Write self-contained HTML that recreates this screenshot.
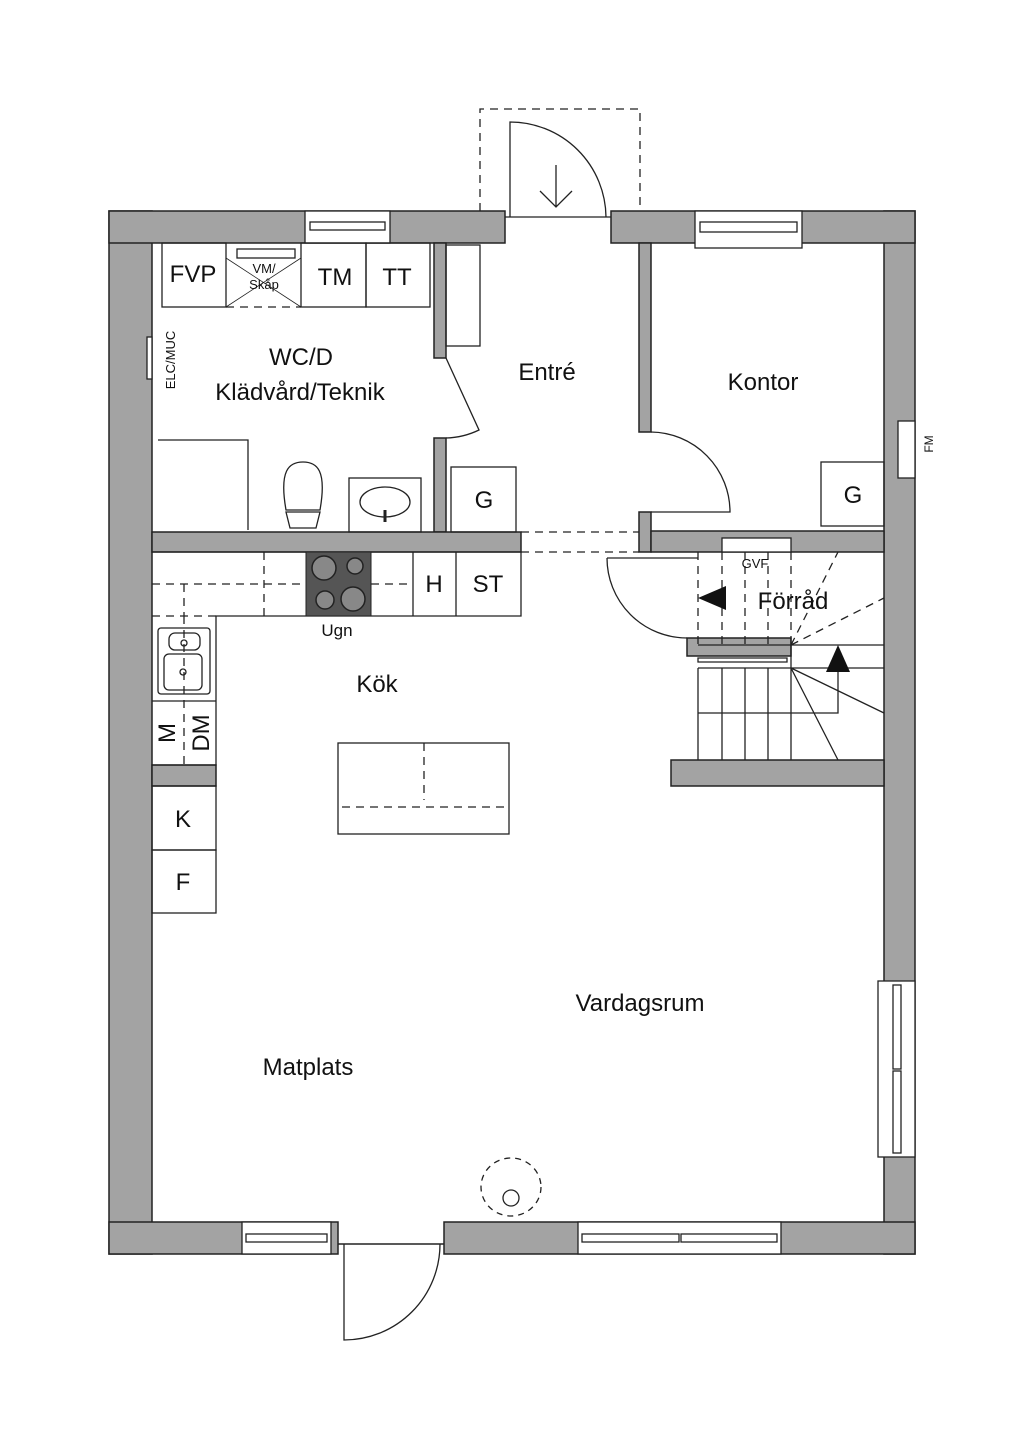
<!DOCTYPE html>
<html><head><meta charset="utf-8"><style>
html,body{margin:0;padding:0;background:#fff}
svg{display:block}
text{font-family:"Liberation Sans",sans-serif;fill:#111}
</style></head><body>
<svg width="1024" height="1448" viewBox="0 0 1024 1448" xmlns="http://www.w3.org/2000/svg">
<g fill="#a3a3a3" stroke="#222" stroke-width="1.5">
<rect x="109" y="211" width="43" height="1043"/>
<rect x="884" y="211" width="31" height="1043"/>
<rect x="109" y="211" width="396" height="32"/>
<rect x="611" y="211" width="304" height="32"/>
<rect x="109" y="1222" width="229" height="32"/>
<rect x="444" y="1222" width="471" height="32"/>
<rect x="434" y="243" width="12" height="115"/>
<rect x="434" y="438" width="12" height="94"/>
<rect x="152" y="532" width="369" height="20"/>
<rect x="639" y="243" width="12" height="189"/>
<rect x="639" y="512" width="12" height="40"/>
<rect x="651" y="531" width="233" height="21"/>
<rect x="687" y="638" width="104" height="18"/>
<rect x="671" y="760" width="213" height="26"/>
<rect x="152" y="765" width="64" height="21"/>
</g>
<g fill="#fff" stroke="#222" stroke-width="1.3">
<rect x="305" y="211" width="85" height="32"/><rect x="310" y="222" width="75" height="8"/>
<rect x="695" y="211" width="107" height="37"/><rect x="700" y="222" width="97" height="10"/>
<rect x="878" y="981" width="37" height="176"/><rect x="893" y="985" width="8" height="84"/><rect x="893" y="1071" width="8" height="82"/>
<rect x="242" y="1222" width="89" height="32"/><rect x="246" y="1234" width="81" height="8"/>
<rect x="578" y="1222" width="203" height="32"/><rect x="582" y="1234" width="97" height="8"/><rect x="681" y="1234" width="96" height="8"/>
<rect x="898" y="421" width="17" height="57"/>
<rect x="147" y="337" width="5" height="42"/>
<rect x="722" y="538" width="69" height="14"/>
<rect x="237" y="249" width="58" height="9"/>
</g>
<g fill="none" stroke="#222" stroke-width="1.3">
<path d="M510 217 V122 A96 96 0 0 1 606 217"/>
<line x1="505" y1="217" x2="611" y2="217"/>
<path d="M556 165 V207 M540 191 L556 207 L572 191"/>
<path d="M480 211 V109 H640 V211" stroke-dasharray="8 6"/>
<path d="M446 358 L479 430 A80 80 0 0 1 446 438"/>
<path d="M651 432 A80 80 0 0 1 730 512 H651"/>
<path d="M607 558 H698 M607 558 A80 80 0 0 0 687 638"/>
<path d="M521 532 H639 M521 552 H639" stroke-dasharray="8 6"/>
<path d="M344 1244 V1340 A96 96 0 0 0 440 1244"/>
<line x1="338" y1="1244" x2="444" y2="1244" stroke-width="1.6"/>
<rect x="162" y="243" width="64" height="64"/>
<rect x="301" y="243" width="65" height="64"/>
<rect x="366" y="243" width="64" height="64"/>
<path d="M226 307 H301" stroke-dasharray="8 6"/>
<path d="M226 307 L301 258 M301 307 L226 258" stroke-width="0.8"/>
<rect x="446" y="245" width="34" height="101"/>
<path d="M158 440 H248 V530"/>
<path d="M286 510 C279 470 289 462 303 462 C317 462 327 470 320 510 Z"/>
<path d="M286 512 H320 L316 528 H290 Z"/>
<rect x="349" y="478" width="72" height="54"/>
<ellipse cx="385" cy="502" rx="25" ry="15"/><line x1="385" y1="510" x2="385" y2="522" stroke-width="3"/>
<rect x="451" y="467" width="65" height="65"/>
<rect x="821" y="462" width="63" height="64"/>
<path d="M152 552 H521 V616 H216 V765 H152"/>
<line x1="413" y1="552" x2="413" y2="616"/><line x1="456" y1="552" x2="456" y2="616"/>
<path d="M152 584 H306 M371 584 H413 M264 552 V616 M184 584 V616 M152 616 H216 M184 616 V765" stroke-dasharray="8 6"/>
<rect x="158" y="628" width="52" height="66" rx="3"/>
<rect x="169" y="633" width="31" height="17" rx="6"/><rect x="164" y="654" width="38" height="36" rx="5"/>
<circle cx="184" cy="643" r="3"/><circle cx="183" cy="672" r="3"/>
<line x1="152" y1="701" x2="216" y2="701"/>
<rect x="152" y="786" width="64" height="64"/><rect x="152" y="850" width="64" height="63"/>
<rect x="338" y="743" width="171" height="91"/>
<path d="M424 743 V800 M342 807 H505" stroke-dasharray="8 6"/>
<path d="M698 552 V645 M722 552 V645 M745 552 V645 M768 552 V645 M791 552 V645" stroke-dasharray="8 6"/>
<path d="M698 645 H791" />
<path d="M791 645 L838 552 M791 645 L884 598" stroke-dasharray="8 6"/>
<path d="M698 662 H787 V658 H698 Z"/>
<path d="M698 668 V760 M722 668 V760 M745 668 V760 M768 668 V760 M791 645 V760 M698 668 H791 M698 713 H838 V672 M791 645 H884 M791 668 H884 M791 668 L884 713 M791 668 L838 760"/>
<ellipse cx="511" cy="1187" rx="30" ry="29" stroke-dasharray="6 5"/>
<circle cx="511" cy="1198" r="8"/>
</g>
<path d="M698 598 L726 586 V610 Z" fill="#111"/>
<path d="M838 645 L826 672 H850 Z" fill="#111"/>
<rect x="306" y="552" width="65" height="64" fill="#555" stroke="#222"/>
<g fill="#888" stroke="#222" stroke-width="1.5">
<circle cx="324" cy="568" r="12"/><circle cx="355" cy="566" r="8"/><circle cx="325" cy="600" r="9"/><circle cx="353" cy="599" r="12"/>
</g>
<g font-size="24">
<text x="193" y="282" text-anchor="middle">FVP</text>
<text x="335" y="285" text-anchor="middle">TM</text>
<text x="397" y="285" text-anchor="middle">TT</text>
<text x="301" y="365" text-anchor="middle">WC/D</text>
<text x="300" y="400" text-anchor="middle">Klädvård/Teknik</text>
<text x="547" y="380" text-anchor="middle">Entré</text>
<text x="763" y="390" text-anchor="middle">Kontor</text>
<text x="484" y="508" text-anchor="middle">G</text>
<text x="853" y="503" text-anchor="middle">G</text>
<text x="793" y="609" text-anchor="middle">Förråd</text>
<text x="434" y="592" text-anchor="middle">H</text>
<text x="488" y="592" text-anchor="middle">ST</text>
<text x="377" y="692" text-anchor="middle">Kök</text>
<text x="183" y="827" text-anchor="middle">K</text>
<text x="183" y="890" text-anchor="middle">F</text>
<text x="640" y="1011" text-anchor="middle">Vardagsrum</text>
<text x="308" y="1075" text-anchor="middle">Matplats</text>
<text transform="translate(175,733) rotate(-90)" text-anchor="middle">M</text>
<text transform="translate(209,733) rotate(-90)" text-anchor="middle">DM</text>
</g>
<text x="337" y="636" font-size="17" text-anchor="middle">Ugn</text>
<text x="264" y="273" font-size="13" text-anchor="middle">VM/</text>
<text x="264" y="289" font-size="13" text-anchor="middle">Skåp</text>
<text x="755" y="568" font-size="13" text-anchor="middle">GVF</text>
<text transform="translate(175,360) rotate(-90)" font-size="13" text-anchor="middle">ELC/MUC</text>
<text transform="translate(933,444) rotate(-90)" font-size="12" text-anchor="middle">FM</text>
</svg>
</body></html>
